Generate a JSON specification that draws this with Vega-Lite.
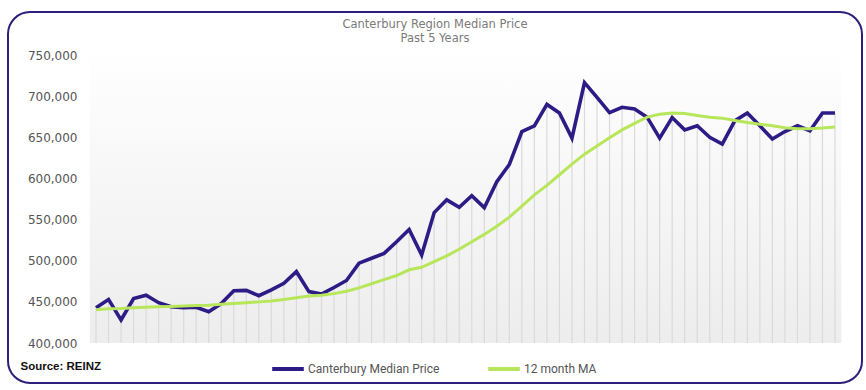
{
  "$schema": "https://vega.github.io/schema/vega-lite/v6.json",
  "width": 854,
  "height": 371,
  "padding": {"left": 8, "right": 4, "top": 12, "bottom": 7},
  "autosize": {"type": "none"},
  "background": "white",
  "config": {
    "view": {"stroke": "#2d1f7c", "strokeWidth": 2, "cornerRadius": 22, "fill": "white"}
  },
  "title": {
    "text": ["Canterbury Region Median Price", "Past 5 Years"],
    "orient": "top",
    "anchor": "middle",
    "frame": "group",
    "offset": -32,
    "baseline": "top",
    "font": "DejaVu Sans",
    "fontSize": 11.5,
    "fontWeight": "normal",
    "color": "#7a7a7a",
    "lineHeight": 14
  },
  "data": {
    "values": [
      {"month": 1, "price": 443000, "ma": 440500},
      {"month": 2, "price": 453000, "ma": 441500},
      {"month": 3, "price": 428000, "ma": 442000},
      {"month": 4, "price": 454000, "ma": 443000},
      {"month": 5, "price": 458000, "ma": 443500},
      {"month": 6, "price": 449000, "ma": 444000},
      {"month": 7, "price": 444000, "ma": 444500},
      {"month": 8, "price": 443000, "ma": 445000},
      {"month": 9, "price": 443500, "ma": 445500},
      {"month": 10, "price": 438000, "ma": 446000},
      {"month": 11, "price": 448000, "ma": 447000},
      {"month": 12, "price": 463500, "ma": 448000},
      {"month": 13, "price": 464000, "ma": 449000},
      {"month": 14, "price": 457500, "ma": 450000},
      {"month": 15, "price": 464500, "ma": 451000},
      {"month": 16, "price": 472500, "ma": 453000},
      {"month": 17, "price": 486700, "ma": 455000},
      {"month": 18, "price": 462500, "ma": 457000},
      {"month": 19, "price": 459500, "ma": 458000},
      {"month": 20, "price": 467500, "ma": 460000},
      {"month": 21, "price": 476000, "ma": 463000},
      {"month": 22, "price": 497000, "ma": 467000},
      {"month": 23, "price": 503000, "ma": 472000},
      {"month": 24, "price": 509000, "ma": 477000},
      {"month": 25, "price": 523000, "ma": 482000},
      {"month": 26, "price": 538000, "ma": 489000},
      {"month": 27, "price": 507000, "ma": 492000},
      {"month": 28, "price": 558500, "ma": 499000},
      {"month": 29, "price": 574000, "ma": 506000},
      {"month": 30, "price": 565000, "ma": 514000},
      {"month": 31, "price": 579000, "ma": 523000},
      {"month": 32, "price": 564500, "ma": 532000},
      {"month": 33, "price": 596000, "ma": 542000},
      {"month": 34, "price": 617000, "ma": 553000},
      {"month": 35, "price": 657000, "ma": 566500},
      {"month": 36, "price": 664000, "ma": 580000},
      {"month": 37, "price": 690000, "ma": 591500},
      {"month": 38, "price": 679500, "ma": 604500},
      {"month": 39, "price": 649000, "ma": 617500},
      {"month": 40, "price": 716500, "ma": 629500},
      {"month": 41, "price": 698500, "ma": 639500},
      {"month": 42, "price": 680000, "ma": 649500},
      {"month": 43, "price": 686500, "ma": 659000},
      {"month": 44, "price": 684500, "ma": 667000},
      {"month": 45, "price": 674500, "ma": 674500},
      {"month": 46, "price": 649000, "ma": 678000},
      {"month": 47, "price": 674000, "ma": 679500},
      {"month": 48, "price": 659000, "ma": 679000},
      {"month": 49, "price": 664000, "ma": 676500},
      {"month": 50, "price": 650000, "ma": 674500},
      {"month": 51, "price": 641700, "ma": 673300},
      {"month": 52, "price": 670000, "ma": 670500},
      {"month": 53, "price": 679500, "ma": 668000},
      {"month": 54, "price": 664000, "ma": 666000},
      {"month": 55, "price": 648000, "ma": 664000},
      {"month": 56, "price": 657000, "ma": 661500},
      {"month": 57, "price": 664000, "ma": 660500},
      {"month": 58, "price": 658000, "ma": 660500},
      {"month": 59, "price": 679500, "ma": 661200},
      {"month": 60, "price": 679500, "ma": 662500}
    ]
  },
  "encoding": {
    "x": {
      "field": "month",
      "type": "quantitative",
      "scale": {"domain": [-6.026, 62.156], "nice": false, "zero": false},
      "axis": {
        "labels": false, "ticks": false, "domain": false, "grid": false,
        "title": "Source: REINZ",
        "titleAnchor": "start", "titleAlign": "left", "titleBaseline": "middle",
        "titleX": 12, "titleY": -17,
        "titleFont": "Liberation Sans", "titleFontSize": 11.5, "titleFontWeight": "bold", "titleColor": "#111111"
      }
    }
  },
  "layer": [
    {
      "data": {"values": [{"x0": 0.5, "x1": 60.5, "y0": 400000, "y1": 762000}]},
      "mark": {
        "type": "rect",
        "color": {
          "gradient": "linear", "x1": 0, "y1": 0, "x2": 0, "y2": 1,
          "stops": [{"offset": 0, "color": "#ffffff"}, {"offset": 1, "color": "#ededed"}]
        }
      },
      "encoding": {
        "x": {"field": "x0", "type": "quantitative"},
        "x2": {"field": "x1"},
        "y": {
          "field": "y0", "type": "quantitative",
          "scale": {"domain": [351400, 802300], "nice": false, "zero": false},
          "axis": {
            "values": [400000, 450000, 500000, 550000, 600000, 650000, 700000, 750000],
            "format": ",d",
            "offset": -82,
            "labelPadding": 13,
            "ticks": false, "domain": false, "grid": false, "title": null,
            "labelFont": "DejaVu Sans", "labelFontSize": 12, "labelColor": "#555555"
          }
        },
        "y2": {"field": "y1"}
      }
    },
    {
      "mark": {"type": "rule", "color": "#dadada", "strokeWidth": 1.2},
      "encoding": {
        "y": {"field": "price", "type": "quantitative", "scale": {"domain": [351400, 802300], "nice": false, "zero": false}},
        "y2": {"datum": 400000}
      }
    },
    {
      "mark": {"type": "line", "strokeWidth": 3.6, "strokeJoin": "miter"},
      "encoding": {
        "y": {"field": "price", "type": "quantitative", "scale": {"domain": [351400, 802300], "nice": false, "zero": false}},
        "color": {
          "datum": "Canterbury Median Price",
          "type": "nominal",
          "scale": {"domain": ["Canterbury Median Price", "12 month MA"], "range": ["#2e1c86", "#b8e65a"]},
          "legend": {
            "orient": "none", "legendX": 262, "legendY": 339,
            "direction": "horizontal", "title": null,
            "symbolType": "stroke", "symbolSize": 1000, "symbolStrokeWidth": 4,
            "labelFont": "Roboto", "labelFontSize": 12, "labelColor": "#555555",
            "labelOffset": 2, "columnPadding": 40
          }
        }
      }
    },
    {
      "mark": {"type": "line", "strokeWidth": 3},
      "encoding": {
        "y": {"field": "ma", "type": "quantitative", "scale": {"domain": [351400, 802300], "nice": false, "zero": false}},
        "color": {"datum": "12 month MA", "type": "nominal"}
      }
    }
  ],
  "resolve": {"scale": {"y": "shared", "color": "shared"}}
}
